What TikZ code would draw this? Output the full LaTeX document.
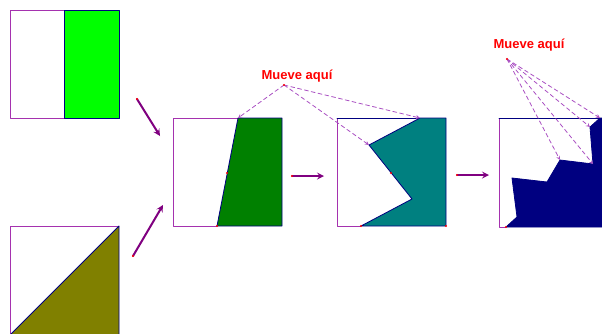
\documentclass[tikz,border=0pt]{standalone}
\usepackage{fontspec}
\setsansfont{Liberation Sans}
\usepackage{tikz}
\usetikzlibrary{calc}
\usetikzlibrary{arrows}
\definecolor{framepurple}{RGB}{165,50,175}
\definecolor{edgeblue}{RGB}{0,0,128}
\definecolor{guidepurple}{RGB}{170,80,195}
\definecolor{movepurple}{RGB}{128,0,128}
\definecolor{olivefill}{RGB}{128,128,0}
\definecolor{greenfill}{RGB}{0,255,0}
\definecolor{dgreenfill}{RGB}{0,128,0}
\definecolor{tealfill}{RGB}{0,128,128}
\definecolor{navyfill}{RGB}{0,0,128}

\begin{document}
\begin{tikzpicture}[x=1pt, y=-1pt, line cap = round, line join = round, >=triangle 45]
\tikzstyle{frame}=[draw=framepurple, line width=0.8pt]
\tikzstyle{piece}=[draw=edgeblue, line width=0.8pt]
\tikzstyle{guide}=[draw=guidepurple, dashed, dash pattern=on 4pt off 3pt, line width=0.8pt, -stealth]
\tikzstyle{move}=[draw=movepurple, line width=2pt, -stealth]
\tikzstyle{hint}=[text=red, font=\sffamily\bfseries\fontsize{13}{15}\selectfont, inner sep=0pt]
\tikzstyle{dot}=[circle, fill=red, inner sep=0pt, minimum size=2.2pt]
\clip (0,0) rectangle (602,333);
\fill[white] (0,0) rectangle (602,333);

\draw[frame] (119,10) -- (10,10) -- (10,118) -- (119,118);
\filldraw[piece, fill=greenfill] (64,10) rectangle (119,118);

\draw[frame] (119,226) -- (10,226) -- (10,335);
\filldraw[piece, fill=olivefill] (10,335) -- (119,226) -- (119,335) -- cycle;

\coordinate (a1) at (137,99);
\coordinate (b1) at (160,136);
\coordinate (a2) at (133,256);
\coordinate (b2) at (163,205);
\coordinate (a3) at (292,176);
\coordinate (b3) at (324,176);
\coordinate (a4) at (457,175);
\coordinate (b4) at (489,175);

\draw[frame] (238,118) -- (173,118) -- (173,226) -- (217,226);
\filldraw[piece, fill=dgreenfill] (238,118) -- (282,118) -- (282,226) -- (217,226) -- cycle;
\coordinate (p3) at (238,118);

\draw[frame] (420,118) -- (337,118) -- (337,226) -- (361,226);
\draw[piece] (337,118) -- (420,118);
\filldraw[piece, fill=tealfill] (420,118) -- (446,118) -- (446,226) -- (361,226) -- (412,199) -- (369,145) -- cycle;
\coordinate (p4a) at (420,118);
\coordinate (p4b) at (369,145);

\draw[frame] (600,118) -- (499,118) -- (499,227) -- (506,227);
\draw[piece] (499,118) -- (600,118);
\filldraw[piece, fill=navyfill] (506,227) -- (517,217) -- (512,178) -- (547,182) -- (560,160) -- (593,164) -- (590,127) -- (600,118) -- (610,118) -- (610,227) -- cycle;
\coordinate (p5a) at (600,118);
\coordinate (p5b) at (590,127);
\coordinate (p5c) at (560,160);
\coordinate (p5d) at (593,164);

\draw[move] (a1) -- (b1);
\draw[move] (a2) -- (b2);
\draw[move] (a3) -- (b3);
\draw[move] (a4) -- (b4);

\node[hint] (hintA) at (297,76) {Mueve aquí};
\coordinate (dotA) at (284,85);
\node[hint] (hintB) at (529,45) {Mueve aquí};
\coordinate (dotB) at (507,59);

\draw[guide] (dotA) -- (p3);
\draw[guide] (dotA) -- (p4a);
\draw[guide] (dotA) -- (p4b);
\foreach \p in {p5a,p5b,p5c,p5d}
  \draw[guide] (dotB) -- (\p);

\foreach \d in {dotA,dotB,a1,a2,a3,a4}
  \node[dot] at (\d) {};
\node[dot] at (217,226) {};
\node[dot] at (227,173) {};
\node[dot] at (361,226) {};
\node[dot] at (391,173) {};
\node[dot] at (446,226) {};
\node[dot] at (506,227) {};
\end{tikzpicture}
\end{document}
